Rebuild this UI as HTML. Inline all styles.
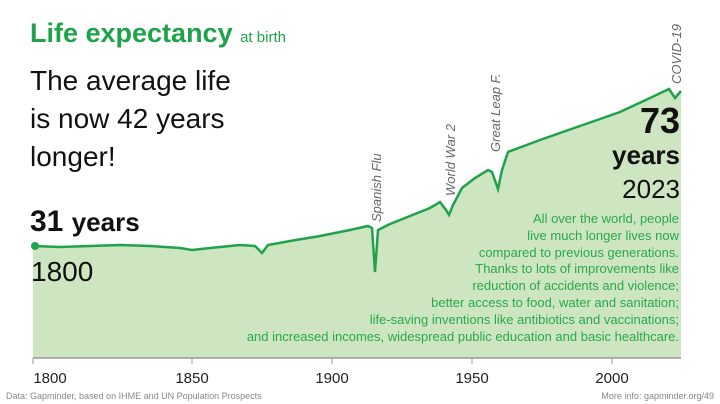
<!DOCTYPE html>
<html><head><meta charset="utf-8"><style>
body{margin:0;width:720px;height:404px;background:#fff;overflow:hidden;font-family:"Liberation Sans",sans-serif;position:relative}
.a{position:absolute;white-space:nowrap}
</style></head><body>
<svg class="a" style="left:0;top:0" width="720" height="404">
<path d="M33,246 L60,247 L90,246 L120,245 L150,246 L180,248 L192,250 L210,248 L240,245 L255,246 L262,253 L268,245 L290,241 L320,236 L350,230 L368,226 L372,228 L375,272 L378,230 L390,224 L410,216 L430,208 L440,202 L446,210 L449,215 L453,205 L462,188 L475,178 L488,170 L492,172 L498,189 L502,170 L508,152 L540,140 L580,126 L620,112 L650,98 L669,89 L675,98 L681,91 L681,358 L33,358 Z" fill="#cde5c0" stroke="none"/>
<path d="M33,246 L60,247 L90,246 L120,245 L150,246 L180,248 L192,250 L210,248 L240,245 L255,246 L262,253 L268,245 L290,241 L320,236 L350,230 L368,226 L372,228 L375,272 L378,230 L390,224 L410,216 L430,208 L440,202 L446,210 L449,215 L453,205 L462,188 L475,178 L488,170 L492,172 L498,189 L502,170 L508,152 L540,140 L580,126 L620,112 L650,98 L669,89 L675,98 L681,91" fill="none" stroke="#1fa34a" stroke-width="2.5"/>
<circle cx="35" cy="246" r="4" fill="#1fa34a"/>
<line x1="33" y1="358" x2="681" y2="358" stroke="#999" stroke-width="1.5"/>
<g stroke="#999"><line x1="33" y1="358" x2="33" y2="364"/><line x1="192" y1="358" x2="192" y2="364"/><line x1="332" y1="358" x2="332" y2="364"/><line x1="472" y1="358" x2="472" y2="364"/><line x1="612" y1="358" x2="612" y2="364"/></g>
<g font-family="Liberation Sans,sans-serif" font-size="15" fill="#222" text-anchor="middle">
<text x="50" y="383">1800</text><text x="192" y="383">1850</text><text x="332" y="383">1900</text><text x="472" y="383">1950</text><text x="612" y="383">2000</text></g>
<g font-family="Liberation Sans,sans-serif" font-size="13" fill="#666" font-style="italic">
<text transform="translate(381,222) rotate(-90)">Spanish Flu</text>
<text transform="translate(455,196) rotate(-90)">World War 2</text>
<text transform="translate(500,152) rotate(-90)">Great Leap F.</text>
<text transform="translate(681,84) rotate(-90)">COVID-19</text></g>
</svg>
<div class="a" style="left:30px;top:18px;font-size:27px;font-weight:bold;color:#1fa34a">Life expectancy <span style="font-size:15px;font-weight:normal">at birth</span></div>
<div class="a" style="left:30px;top:62px;font-size:28px;line-height:38px;color:#111">The average life<br>is now 42 years<br>longer!</div>
<div class="a" style="left:30px;top:205px;font-size:30px;font-weight:bold;color:#111">31 <span style="font-size:26px">years</span></div>
<div class="a" style="left:31px;top:256px;font-size:28px;color:#111">1800</div>
<div class="a" style="right:40px;top:104px;text-align:right;color:#111;line-height:34px"><div style="font-size:36px;font-weight:bold">73</div><div style="font-size:26px;font-weight:bold">years</div><div style="font-size:26px">2023</div></div>
<div class="a" style="right:41px;top:211px;text-align:right;font-size:13px;line-height:16.8px;color:#2aa84e">All over the world, people<br>live much longer lives now<br>compared to previous generations.<br>Thanks to lots of improvements like<br>reduction of accidents and violence;<br>better access to food, water and sanitation;<br>life-saving inventions like antibiotics and vaccinations;<br>and increased incomes, widespread public education and basic healthcare.</div>
<div class="a" style="left:6px;top:391px;font-size:9px;color:#888">Data: Gapminder, based on IHME and UN Population Prospects</div>
<div class="a" style="right:6px;top:391px;font-size:9px;color:#888">More info: gapminder.org/49</div>
</body></html>
